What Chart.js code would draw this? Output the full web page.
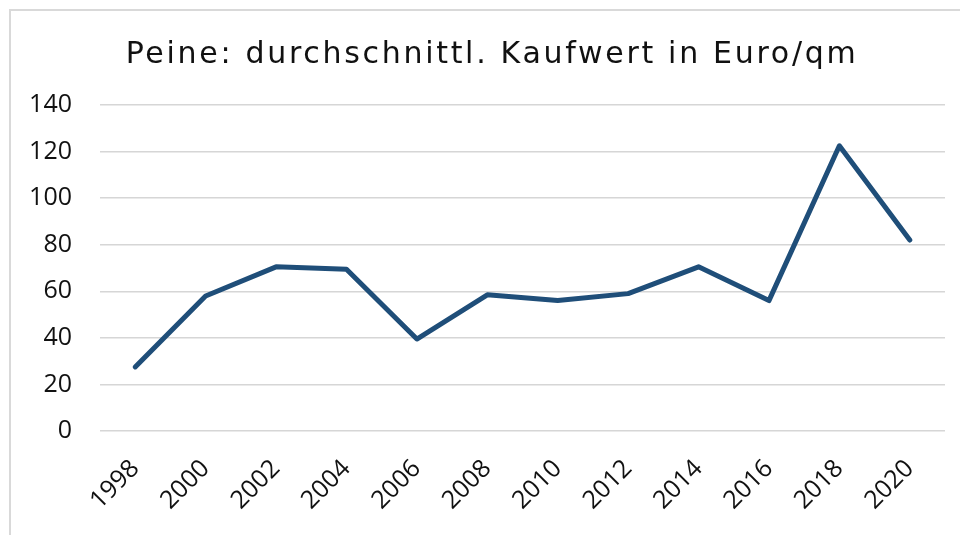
<!DOCTYPE html>
<html>
<head>
<meta charset="utf-8">
<script src="https://cdn.jsdelivr.net/npm/chart.js@4.4.1/dist/chart.umd.min.js"></script>
<style>
  html, body { margin: 0; padding: 0; background: #fff; overflow: hidden; }
  #frame { position: absolute; left: 9px; top: 9px; width: 1000px; height: 600px; border: 2px solid #d9d9d9; }
  #wrap { position: absolute; left: 0; top: 0; width: 960px; height: 535px; }
</style>
</head>
<body>
<div id="frame"></div>
<div id="wrap"><canvas id="chart"></canvas></div>
<script>
// data
const years = ["1998", "2000", "2002", "2004", "2006", "2008", "2010", "2012", "2014", "2016", "2018", "2020"];
const kaufwert = [27.5, 58, 70.5, 69.5, 39.5, 58.5, 56, 59, 70.5, 56, 122.5, 82];
const yTicks = [0, 20, 40, 60, 80, 100, 120, 140];

const FONT = "'Open Sans', 'DejaVu Sans', sans-serif";
const TITLE_FONT = "'DejaVu Sans', 'Open Sans', sans-serif";
const TEXT = "#111111";

// the original title font is wider, so give the title a little letter spacing
const spacedTitle = {
  id: "spacedTitle",
  afterLayout(chart) {
    const tb = chart.titleBlock;
    if (!tb || tb._spaced) return;
    const draw = tb.draw;
    tb.draw = function (area) {
      this.ctx.save();
      this.ctx.letterSpacing = "2.7px";
      draw.call(this, area);
      this.ctx.restore();
    };
    tb._spaced = true;
  }
};

new Chart(document.getElementById("chart"), {
  type: "line",
  data: {
    labels: years,
    datasets: [{
      label: "Kaufwert",
      data: kaufwert,
      borderColor: "#1f4e79",
      borderWidth: 5,
      borderCapStyle: "round",
      borderJoinStyle: "round",
      pointRadius: 0,
      tension: 0,
      fill: false
    }]
  },
  plugins: [spacedTitle],
  options: {
    responsive: true,
    maintainAspectRatio: false,
    animation: false,
    layout: { padding: { left: 24, right: 0, top: 10, bottom: 0 } },
    plugins: {
      legend: { display: false },
      tooltip: { enabled: false },
      title: {
        display: true,
        text: "Peine: durchschnittl. Kaufwert in Euro/qm",
        color: TEXT,
        font: { family: TITLE_FONT, size: 30, weight: "normal" },
        padding: { top: 27, bottom: 32 }
      }
    },
    scales: {
      x: {
        offset: true,
        grid: { display: false, drawTicks: false },
        border: { display: false },
        ticks: {
          color: TEXT,
          font: { family: FONT, size: 25 },
          maxRotation: 45,
          minRotation: 45,
          padding: 23,
          autoSkip: false
        },
        afterFit: s => { s.height = 104; }
      },
      y: {
        min: yTicks[0],
        max: yTicks[yTicks.length - 1],
        afterBuildTicks: s => { s.ticks = yTicks.map(v => ({ value: v })); },
        grid: { color: "#d6d6d6", lineWidth: 1.5, drawTicks: false },
        border: { display: false },
        ticks: {
          color: TEXT,
          font: { family: FONT, size: 25 },
          padding: 28
        },
        afterFit: s => { s.width = 76; }
      },
      spacer: {
        type: "linear",
        position: "right",
        grid: { display: false, drawTicks: false },
        border: { display: false },
        ticks: { display: false },
        afterFit: s => { s.width = 15; }
      }
    }
  }
});
</script>
</body>
</html>
